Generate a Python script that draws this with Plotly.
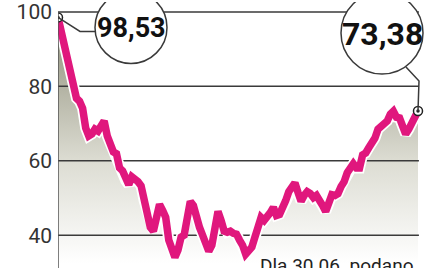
import plotly.graph_objects as go

# --- data (index, value) ---
values = [98.53, 94.7, 91.2, 88.5, 84.0, 81.3, 76.8, 76.0, 74.1, 68.8,
          66.7, 67.2, 68.5, 68.0, 69.3, 70.7, 66.7, 64.5, 62.4, 61.9,
          58.1, 57.3, 54.7, 53.6, 55.7, 55.2, 54.4, 53.3, 49.3, 45.6,
          42.1, 41.1, 44.0, 48.3, 46.7, 44.8, 38.7, 36.0, 34.1, 36.0,
          39.5, 40.0, 45.3, 49.1, 48.0, 44.0, 42.1, 40.0, 37.3, 35.7,
          37.3, 42.7, 46.4, 44.0, 41.1, 40.8, 41.1, 40.5, 40.3, 38.7,
          37.3, 34.9, 36.0, 36.8, 39.5, 42.7, 44.8, 44.0, 44.8, 46.1,
          47.5, 45.3, 45.6, 47.2, 49.3, 51.7, 53.3, 54.1, 51.5, 49.1,
          50.7, 51.7, 51.2, 50.1, 50.7, 49.6, 48.0, 46.4, 48.5, 50.9,
          50.7, 51.2, 53.1, 54.4, 56.8, 58.1, 59.2, 58.1, 58.1, 61.6,
          62.1, 63.5, 64.5, 66.1, 68.5, 69.1, 69.9, 70.7, 72.5, 73.3,
          71.7, 71.5, 69.3, 67.2, 68.5, 69.9, 71.2, 73.38]
x = list(range(len(values)))
tick_vals = [40, 60, 80, 100]
tick_text = ["40", "60", "80", "100"]
note_text = "Dla 30.06. podano"

PINK = "#E0177D"
GRID = "#3a3a3a"

n = len(values)
W, H = 439, 268
L = 58
span_px = 360.0
x_max = (n - 1) * (W - L) / span_px

def fmt(v):
    return f"{v:.2f}".replace(".", ",")

fig = go.Figure()

# gradient fill under the line
fig.add_trace(go.Scatter(
    x=x, y=values, mode="lines", line=dict(width=0, color="rgba(0,0,0,0)"),
    fill="tozeroy",
    fillgradient=dict(type="vertical", start=33, stop=88,
                      colorscale=[[0, "#ffffff"], [0.5, "#dcdcd2"], [1, "#a2a290"]]),
    hoverinfo="skip", showlegend=False))
# gridlines (drawn over the fill, under the line)
for t in tick_vals:
    fig.add_trace(go.Scatter(x=[0, (n - 1) + 0.3], y=[t, t], mode="lines",
                             line=dict(color=GRID, width=1.5),
                             hoverinfo="skip", showlegend=False))
# white halo
fig.add_trace(go.Scatter(x=x, y=values, mode="lines",
                         line=dict(width=11, color="white"),
                         hoverinfo="skip", showlegend=False))
# main line
fig.add_trace(go.Scatter(x=x, y=values, mode="lines",
                         line=dict(width=7.5, color=PINK),
                         hoverinfo="skip", showlegend=False))

shapes = []
# left vertical axis line
shapes.append(dict(type="line", xref="x", yref="paper", x0=0, x1=0, y0=0,
                   y1=1 - 10 / H, line=dict(color="#555555", width=1.5)))

# callouts (pixel offsets relative to data points)
def callout(ix, path, cdx, cdy, r):
    xa, ya = x[ix], values[ix]
    shapes.append(dict(type="path", xref="x", yref="y", xsizemode="pixel",
                       ysizemode="pixel", xanchor=xa, yanchor=ya, path=path,
                       line=dict(color=GRID, width=1.5)))
    shapes.append(dict(type="circle", xref="x", yref="y", xsizemode="pixel",
                       ysizemode="pixel", xanchor=xa, yanchor=ya,
                       x0=cdx - r, x1=cdx + r, y0=cdy - r, y1=cdy + r,
                       fillcolor="white", line=dict(color=GRID, width=1.5)))

callout(0, "M0,0 L22,-14 L37,-14", 73, -10, 36)
callout(n - 1, "M0,0 L1,30 L-12,44", -36, 78, 41)

annotations = [
    dict(x=x[0], y=values[0], xref="x", yref="y", text=fmt(values[0]),
         showarrow=False, xshift=73, yshift=-11,
         font=dict(family="Roboto", size=27, color="#111", weight="bold")),
    dict(x=x[-1], y=values[-1], xref="x", yref="y", text=fmt(values[-1]),
         showarrow=False, xshift=-36, yshift=77,
         font=dict(family="Roboto", size=32, color="#111", weight="bold")),
    dict(x=(258 - L) / (W - L), y=1 - 252 / H, xref="paper", yref="paper",
         text=note_text, showarrow=False, xanchor="left", yanchor="top",
         font=dict(family="Roboto", size=19, color="#222")),
]

# end-point markers
fig.add_trace(go.Scatter(x=[x[0], x[-1]], y=[values[0], values[-1]], mode="markers",
                         marker=dict(size=9, color="white",
                                     line=dict(color="#222", width=1.5)),
                         hoverinfo="skip", showlegend=False))
fig.add_trace(go.Scatter(x=[x[0], x[-1]], y=[values[0], values[-1]], mode="markers",
                         marker=dict(size=3.5, color="#222"),
                         hoverinfo="skip", showlegend=False))

fig.update_layout(
    width=W, height=H, margin=dict(l=L, r=0, t=0, b=0),
    paper_bgcolor="white", plot_bgcolor="white",
    xaxis=dict(range=[0, x_max], visible=False),
    yaxis=dict(range=[100 - (H - 10) / 3.75, 100 + 10 / 3.75],
               tickvals=tick_vals, ticktext=tick_text, showgrid=False,
               zeroline=False, showline=False, ticks="", ticklabelstandoff=5,
               ticklabeloverflow="allow",
               tickfont=dict(family="Roboto", size=21, color="#333")),
    shapes=shapes, annotations=annotations, showlegend=False,
)

fig.write_html("out.html")
